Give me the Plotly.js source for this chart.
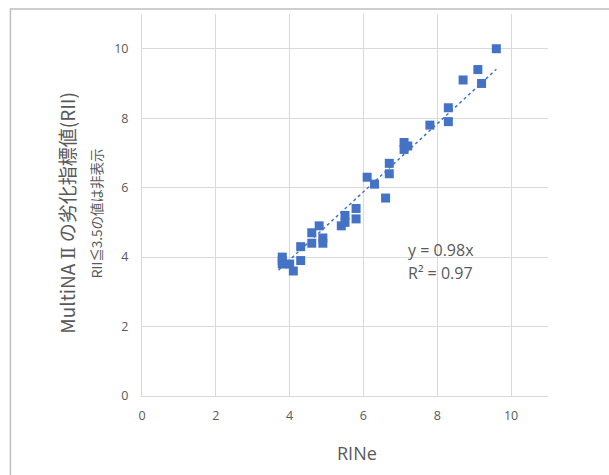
<!DOCTYPE html>
<html>
<head>
<meta charset="utf-8">
<script src="https://cdn.plot.ly/plotly-3.0.1.min.js"></script>
<style>html,body{margin:0;padding:0;background:#fff;}#chart{width:609px;height:475px;}</style>
</head>
<body>
<div id="chart"></div>
<script>
// RINe values (x)
const rine = [9.6, 9.1, 8.7, 9.2, 8.3, 8.3, 7.8, 7.1, 7.1, 7.2, 6.7, 6.7, 6.6, 6.1, 6.3,
              5.8, 5.8, 5.5, 5.5, 5.4, 4.9, 4.9, 4.8, 4.6, 4.6, 4.3, 4.3, 3.8, 3.8, 3.8, 4.0, 4.1];
// MultiNA II RII values (y)
const rii  = [10.0, 9.4, 9.1, 9.0, 8.3, 7.9, 7.8, 7.3, 7.1, 7.2, 6.7, 6.4, 5.7, 6.3, 6.1,
              5.4, 5.1, 5.2, 5.0, 4.9, 4.55, 4.4, 4.9, 4.7, 4.4, 4.3, 3.9, 4.0, 3.9, 3.8, 3.8, 3.6];
const slope = 0.98;
const r2 = 0.97;
const xTicks = [0, 2, 4, 6, 8, 10];
const yTicks = [0, 2, 4, 6, 8, 10];

const xMin = Math.min(...rine), xMax = Math.max(...rine);
const trendX = [xMin - 0.1, xMax];
const trendY = trendX.map(v => slope * v);

const grey = '#595959';
const sans = '"Open Sans", sans-serif';
const cjk = '"Noto Sans CJK JP", sans-serif';
const data = [
  {x: rine, y: rii, type: 'scatter', mode: 'markers',
   marker: {symbol: 'square', size: 9, color: '#4472C4'}, hoverinfo: 'x+y'},
  {x: trendX, y: trendY, type: 'scatter', mode: 'lines',
   line: {color: '#4472C4', width: 1.5, dash: 'dot'}}
];

const layout = {
  width: 609, height: 475,
  margin: {l: 142, r: 61, t: 14, b: 79},
  paper_bgcolor: '#ffffff', plot_bgcolor: '#ffffff',
  showlegend: false,
  font: {family: sans, color: grey},
  xaxis: {
    range: [0, 11], tickvals: xTicks, ticktext: xTicks.map(String),
    showgrid: true, gridcolor: '#D9D9D9', gridwidth: 1,
    showline: true, linecolor: '#D9D9D9', linewidth: 1,
    zeroline: false, ticks: 'outside', ticklen: 8, tickcolor: 'rgba(0,0,0,0)',
    tickfont: {size: 12.5, color: grey, family: sans}
  },
  yaxis: {
    range: [0, 11], tickvals: yTicks, ticktext: yTicks.map(String),
    showgrid: true, gridcolor: '#D9D9D9', gridwidth: 1,
    showline: true, linecolor: '#D9D9D9', linewidth: 1,
    zeroline: false, ticks: 'outside', ticklen: 10, tickcolor: 'rgba(0,0,0,0)',
    tickfont: {size: 12.5, color: grey, family: sans}
  },
  annotations: [
    {xref: 'paper', yref: 'paper', x: -0.188, y: 0.479, xanchor: 'center', yanchor: 'middle',
     text: 'MultiNA <span style="font-family:\'DejaVu Serif\'">Ⅱ</span> の劣化指標値(RII)', textangle: -90, showarrow: false,
     font: {size: 19, color: grey, family: cjk}},
    {xref: 'paper', yref: 'paper', x: -0.113, y: 0.479, xanchor: 'center', yanchor: 'middle',
     text: 'RII≦3.5の値は非表示', textangle: -90, showarrow: false,
     font: {size: 13.5, color: grey, family: cjk}},
    {xref: 'paper', yref: 'paper', x: 0.53, y: -0.148, xanchor: 'center', yanchor: 'middle',
     text: 'RINe', showarrow: false,
     font: {size: 18, color: grey, family: sans}},
    {xref: 'paper', yref: 'paper', x: 0.650, y: 0.381, xanchor: 'left', yanchor: 'middle',
     text: 'y = ' + slope + 'x', showarrow: false, align: 'left',
     font: {size: 16, color: grey, family: sans}},
    {xref: 'paper', yref: 'paper', x: 0.650, y: 0.323, xanchor: 'left', yanchor: 'middle',
     text: 'R² = ' + r2, showarrow: false, align: 'left',
     font: {size: 16, color: grey, family: sans}}
  ],
  shapes: [
    {type: 'rect', xref: 'paper', yref: 'paper', x0: -0.324, x1: 2, y0: -1, y1: 1.013,
     line: {color: '#BFBFBF', width: 1.5}, fillcolor: 'rgba(0,0,0,0)', layer: 'below'}
  ]
};

Plotly.newPlot('chart', data, layout, {displayModeBar: false, staticPlot: true});
</script>
</body>
</html>
